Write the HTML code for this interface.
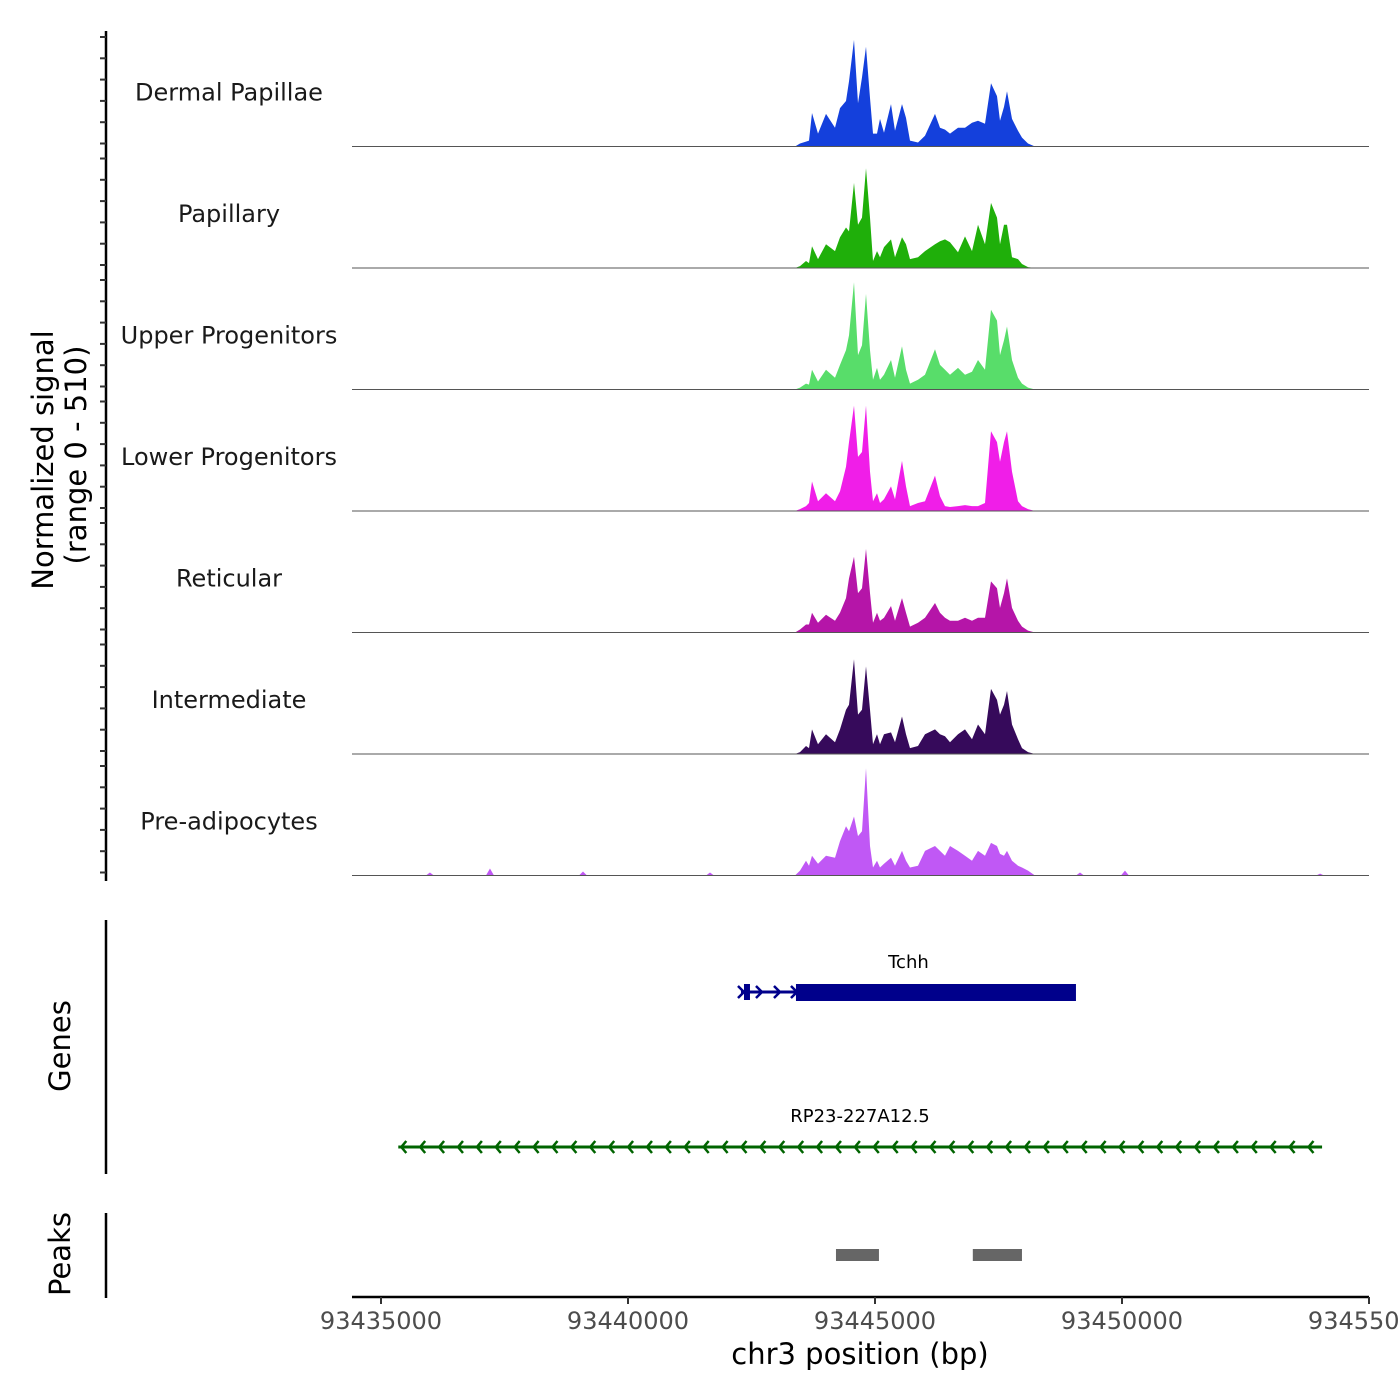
<!DOCTYPE html>
<html><head><meta charset="utf-8">
<style>
html,body{margin:0;padding:0;background:#fff;}
svg{display:block;font-family:"DejaVu Sans","Liberation Sans",sans-serif;}
</style></head>
<body>
<svg id="chart" width="1400" height="1400" viewBox="0 0 1400 1400" xmlns="http://www.w3.org/2000/svg">
  <g id="tracks"></g>
  <g id="genes"></g>
  <g id="peaks"></g>
  <g id="axes"></g>
  <text transform="translate(53,460) rotate(-90)" text-anchor="middle" font-size="29" fill="#000">Normalized signal</text>
  <text transform="translate(86,455) rotate(-90)" text-anchor="middle" font-size="29" fill="#000">(range 0 - 510)</text>
  <text transform="translate(70,1046) rotate(-90)" text-anchor="middle" font-size="29" fill="#000">Genes</text>
  <text transform="translate(70,1254) rotate(-90)" text-anchor="middle" font-size="29" fill="#000">Peaks</text>
  <text x="860" y="1364" text-anchor="middle" font-size="29" fill="#000">chr3 position (bp)</text>
</svg>
<script>
// ---- data ----
const trackNames = ["Dermal Papillae","Papillary","Upper Progenitors","Lower Progenitors","Reticular","Intermediate","Pre-adipocytes"];
const trackColors = ["#1440dc","#1faf0a","#58dd6a","#f01ee8","#b515a8","#360a5b","#c058f5"];
const positions = [93443381,93443482,93443603,93443664,93443725,93443846,93444008,93444190,93444292,93444413,93444474,93444575,93444656,93444737,93444818,93444899,93444960,93445041,93445101,93445182,93445324,93445405,93445547,93445628,93445709,93445870,93446012,93446215,93446316,93446417,93446518,93446680,93446822,93446964,93447085,93447227,93447348,93447470,93447530,93447611,93447672,93447773,93447895,93447976,93448097,93448239];
const dermalPapillae = [0,13,21,25,143,55,139,80,164,194,278,455,185,295,426,207,55,55,118,59,181,67,181,122,25,17,46,139,80,72,55,80,80,101,110,97,270,215,110,169,236,118,67,38,13,0];
const papillary = [0,8,30,21,93,38,101,72,131,173,156,363,185,215,426,215,30,72,46,89,122,46,131,101,38,46,72,101,114,122,110,67,135,72,185,101,278,215,101,185,185,46,38,17,4,0];
const upperProgenitors = [0,8,25,21,84,34,84,50,105,168,231,458,147,189,408,168,42,92,42,63,126,50,185,84,25,42,63,172,105,84,63,92,63,76,126,84,340,294,147,210,269,126,50,25,8,0];
const lowerProgenitors = [0,8,21,34,126,42,76,42,84,189,294,450,231,252,450,168,42,76,34,50,105,50,214,105,21,34,42,151,63,21,17,21,25,21,21,34,340,294,210,294,340,168,42,21,8,0];
const reticular = [0,13,34,34,84,42,76,50,84,147,231,323,168,189,357,168,42,84,50,63,113,50,147,84,25,42,63,126,84,63,50,50,63,50,63,63,218,189,105,168,231,105,50,25,8,0];
const intermediate = [0,8,34,25,105,42,84,50,105,189,210,404,168,189,374,189,42,84,42,84,92,50,160,84,25,34,84,105,84,76,50,84,105,63,126,84,278,231,168,210,269,126,63,25,8,0];
const preAdipocytes = [0,21,63,42,84,50,84,76,147,210,189,252,168,189,458,126,34,63,34,50,76,42,105,63,34,42,105,126,105,84,126,105,84,63,105,84,139,126,92,84,105,63,42,34,21,0];
const bgPositions = [93435990,93437206,93439089,93441660,93449150,93450060,93454010];
const bgPreAdipocytes = [13,30,17,13,13,21,8];
const seriesValues = [dermalPapillae,papillary,upperProgenitors,lowerProgenitors,reticular,intermediate,preAdipocytes];
const xTicks = [93435000,93440000,93445000,93450000,93455000];
const xTickLabels = ["93435000","93440000","93445000","93450000","93455000"];
const genePos = [93442287,93443400,93449068];
const gene2Pos = [93435350,93454050];
const peakStarts = [93444210,93446980];
const peakEnds = [93445080,93447975];
const yMax = 510;

// ---- scales ----
const NS="http://www.w3.org/2000/svg";
const X0=352, X1=1369;
function xs(bp){return 381+(bp-93435000)*247/5000;}
const trackTop=25, trackH=121.5;
function mk(tag,attrs,parent){const e=document.createElementNS(NS,tag);for(const k in attrs)e.setAttribute(k,attrs[k]);parent.appendChild(e);return e;}

const tg=document.getElementById('tracks');
seriesValues.forEach((vals,i)=>{
  const base=trackTop+trackH*(i+1);
  const ys=v=>base-v*(trackH-2)/yMax;
  const g=mk('g',{},tg);
  
  
  let d='M'+X0+','+base+' L'+xs(positions[0])+','+base;
  positions.forEach((p,j)=>{d+=' L'+xs(p).toFixed(1)+','+ys(vals[j]).toFixed(1);});
  d+=' L'+X1+','+base+' Z';
  const a=mk('path',{d:d,fill:trackColors[i]},g);
  
  
  if(i===6){
    bgPositions.forEach((p,j)=>{
      const x=xs(p);
      const b=mk('path',{d:`M${x-4},${base} L${x},${ys(bgPreAdipocytes[j])} L${x+4},${base} Z`,fill:trackColors[i]},g);
      
      
    });
  }
  const l=mk('line',{x1:X0,x2:X1,y1:base,y2:base,stroke:'#555','stroke-width':1},g);
  
  
  const t=mk('text',{x:229,y:base-46,'text-anchor':'middle','font-size':24,fill:'#1a1a1a'},g);
  t.textContent=trackNames[i];
  
  
});

// genes
const gg=document.getElementById('genes');
const gx0=xs(genePos[0]), gx1=xs(genePos[1]), gx2=xs(genePos[2]);
mk('line',{x1:gx0,x2:gx1,y1:992,y2:992,stroke:'#00008b','stroke-width':3},gg);
mk('rect',{x:gx0+3,y:984,width:6,height:16,fill:'#00008b'},gg);
[gx0,gx0+18,gx0+36,gx1-2].forEach(x=>{mk('path',{d:`M${x-3},${986} L${x+3},${992} L${x-3},${998}`,stroke:'#00008b','stroke-width':2.5,fill:'none'},gg);});
const tchh=mk('rect',{x:gx1,y:984,width:gx2-gx1,height:17,fill:'#00008b'},gg);


const tl=mk('text',{x:(gx0+gx2)/2+0,y:968,'text-anchor':'middle','font-size':18,fill:'#000'},gg);
tl.textContent='Tchh';


const r0=xs(gene2Pos[0]), r1=xs(gene2Pos[1]);
const rl=mk('line',{x1:r0,x2:r1,y1:1147,y2:1147,stroke:'#006400','stroke-width':3},gg);


for(let x=r0+3;x<r1-10;x+=18.9){mk('path',{d:`M${x+5},1141 L${x},1147 L${x+5},1153`,stroke:'#006400','stroke-width':2.5,fill:'none'},gg);}
const rlab=mk('text',{x:860,y:1122,'text-anchor':'middle','font-size':18,fill:'#000'},gg);
rlab.textContent='RP23-227A12.5';



// peaks
const pg=document.getElementById('peaks');
peakStarts.forEach((s,i)=>{
  const r=mk('rect',{x:xs(s),y:1249,width:xs(peakEnds[i])-xs(s),height:12,fill:'#666'},pg);
  
  
});

// axes
const ag=document.getElementById('axes');
const yl=mk('line',{x1:106,x2:106,y1:31,y2:881,stroke:'#000','stroke-width':2.5},ag);


for(let i=0;i<7;i++){
  const base=trackTop+trackH*(i+1);
  for(let k=0;k<6;k++){const y=base-3-k*21.3;mk('line',{x1:100,x2:106,y1:y,y2:y,stroke:'#333','stroke-width':2},ag);}
}
const gl=mk('line',{x1:106,x2:106,y1:920,y2:1174,stroke:'#000','stroke-width':2.5},ag);


const pl=mk('line',{x1:106,x2:106,y1:1213,y2:1298,stroke:'#000','stroke-width':2.5},ag);


const xl=mk('line',{x1:X0,x2:X1,y1:1297,y2:1297,stroke:'#000','stroke-width':2.5},ag);


xTicks.forEach((t,i)=>{
  const x=xs(t);
  mk('line',{x1:x,x2:x,y1:1297,y2:1304,stroke:'#333','stroke-width':2},ag);
  const tx=mk('text',{x:x,y:1329,'text-anchor':'middle','font-size':24,fill:'#4d4d4d'},ag);
  tx.textContent=xTickLabels[i];
  
  
});
</script>
</body></html>
